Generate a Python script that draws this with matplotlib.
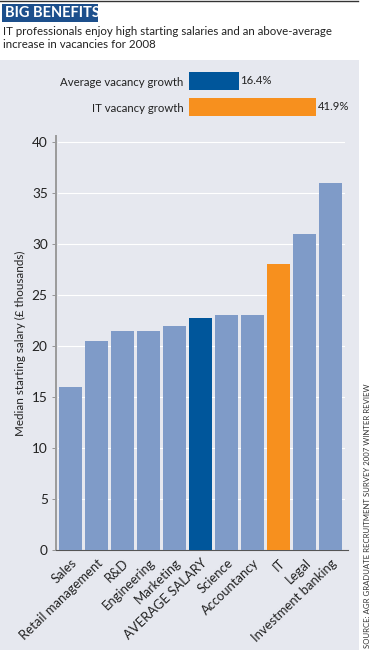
import matplotlib
matplotlib.use("Agg")
import matplotlib.pyplot as plt
from matplotlib.patches import Rectangle
from matplotlib.lines import Line2D

plt.rcParams['font.family'] = ['Lato', 'DejaVu Sans']

categories = ["Sales", "Retail management", "R&D", "Engineering", "Marketing",
              "AVERAGE SALARY", "Science", "Accountancy", "IT", "Legal",
              "Investment banking"]
salaries = [16, 20.5, 21.5, 21.5, 22, 22.8, 23, 23, 28, 31, 36]
growth_labels = ["Average vacancy growth", "IT vacancy growth"]
growth_values = [16.4, 41.9]
yticks = [0, 5, 10, 15, 20, 25, 30, 35, 40]

LIGHT = "#7f9bc8"
DARK = "#00569b"
ORANGE = "#f7901e"
PANEL = "#e6e8ef"

W, H = 374, 650
fig = plt.figure(figsize=(W / 100, H / 100), dpi=100)
fig.patch.set_facecolor("white")

def fx(px):
    return px / W

def fy(py):
    return 1 - py / H

# background panel
fig.patches.append(Rectangle((0, 0), fx(359), fy(60), transform=fig.transFigure,
                             facecolor=PANEL, edgecolor="none", zorder=-5))
# top rule
fig.add_artist(Line2D([0, fx(358)], [fy(1), fy(1)], transform=fig.transFigure,
                      color="#333333", lw=1.0))
# title box
fig.patches.append(Rectangle((fx(2), fy(21.5)), fx(96), 17.5 / H, transform=fig.transFigure,
                             facecolor="#1c4f8c", edgecolor="none", zorder=1))
fig.text(fx(5), fy(13), "BIG BENEFITS", color="white", fontsize=10.5, fontweight="bold",
         va="center", ha="left", zorder=2)
fig.text(fx(3), fy(26), "IT professionals enjoy high starting salaries and an above-average\nincrease in vacancies for 2008",
         color="#222222", fontsize=8.3, va="top", ha="left", linespacing=1.2)

# source
fig.text(fx(367), fy(648), "SOURCE: AGR GRADUATE RECRUITMENT SURVEY 2007 WINTER REVIEW",
         rotation=90, fontsize=5.6, color="#333333", ha="center", va="bottom")

# main axes
ax = fig.add_axes([fx(56), fy(550), fx(348) - fx(56), fy(136) - fy(550)])
ax.set_facecolor("none")
colors = [LIGHT] * len(categories)
colors[categories.index("AVERAGE SALARY")] = DARK
colors[categories.index("IT")] = ORANGE
x = list(range(len(categories)))
ax.bar(x, salaries, width=0.89, color=colors, zorder=3)
ax.set_xlim(-0.56, len(categories) - 1 + 0.67)
ax.set_ylim(0, 40.6)
ax.set_yticks(yticks)
ax.set_yticklabels([str(t) for t in yticks], fontsize=9.8, color="#222222")
for t in yticks[1:]:
    ax.plot([-0.5, 10.5], [t, t], color="white", lw=0.8, zorder=1)
ax.set_xticks(x)
ax.set_xticklabels(categories, rotation=44, ha="right", rotation_mode="anchor",
                   fontsize=9.4, color="#222222")
ax.tick_params(axis="x", length=0, pad=5)
ax.tick_params(axis="y", length=3, width=0.6, color="#888888", pad=3)
for s in ["top", "right"]:
    ax.spines[s].set_visible(False)
ax.spines["left"].set_color("#9a9a9a")
ax.spines["left"].set_linewidth(1.4)
ax.spines["bottom"].set_color("#555555")
ax.spines["bottom"].set_linewidth(0.8)
ax.set_ylabel("Median starting salary (£ thousands)", fontsize=8.4, color="#222222", labelpad=4)

# growth mini chart
ax2 = fig.add_axes([fx(189), fy(120), 3.03 * 45 / W, 52 / H])
ax2.set_facecolor("none")
ax2.barh([0, 1], growth_values, height=0.69, color=[DARK, ORANGE], zorder=3)
ax2.set_xlim(0, 45)
ax2.set_ylim(1.5, -0.5)
ax2.set_yticks([0, 1])
ax2.set_yticklabels(growth_labels, fontsize=8.2, color="#222222")
ax2.tick_params(axis="y", length=0, pad=4)
ax2.set_xticks([])
for s in ax2.spines.values():
    s.set_visible(False)
for i, v in enumerate(growth_values):
    ax2.text(v + 0.6, i, f"{v}%", va="center", ha="left", fontsize=8.2, color="#222222")

fig.savefig("out.png", dpi=100, facecolor="white")
